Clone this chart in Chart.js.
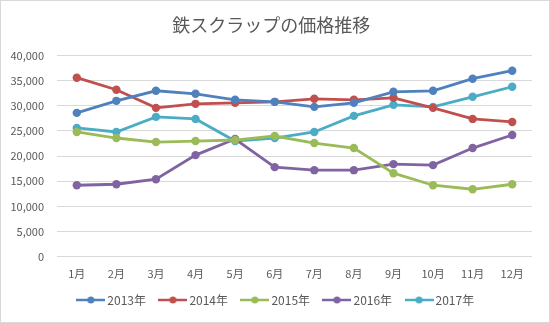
<!DOCTYPE html>
<html>
<head>
<meta charset="utf-8">
<script src="https://cdn.jsdelivr.net/npm/chart.js@4"></script>
<style>
  html, body { margin: 0; padding: 0; background: #fff; }
  #wrap { position: relative; width: 550px; height: 323px; box-sizing: border-box; border: 1px solid #d9d9d9; }
</style>
</head>
<body>
<div id="wrap"><canvas id="priceChart"></canvas></div>
<script>
        // 鉄スクラップの価格推移 - data
        const months = ['1月', '2月', '3月', '4月', '5月', '6月', '7月', '8月', '9月', '10月', '11月', '12月'];
        const yearLabels = ['2013年', '2014年', '2015年', '2016年', '2017年'];
        const price2013 = [28600, 31000, 33000, 32400, 31200, 30800, 29800, 30600, 32800, 33000, 35400, 37000];
        const price2014 = [35600, 33200, 29600, 30400, 30600, 30800, 31400, 31200, 31600, 29600, 27400, 26800];
        const price2015 = [24800, 23600, 22800, 23000, 23200, 24000, 22600, 21600, 16600, 14200, 13400, 14400];
        const price2016 = [14200, 14400, 15400, 20200, 23400, 17800, 17200, 17200, 18400, 18200, 21600, 24200];
        const price2017 = [25600, 24800, 27800, 27400, 23000, 23600, 24800, 28000, 30200, 29800, 31800, 33800];
        const colors = ['#4f81bd', '#c0504d', '#9bbb59', '#8064a2', '#4bacc6'];

        const font = "'Noto Sans CJK JP', 'Noto Sans', sans-serif";

        // legend marker: short line with a dot in the middle
        function legendMarker(color) {
            const c = document.createElement('canvas');
            c.width = 29;
            c.height = 10;
            const g = c.getContext('2d');
            g.strokeStyle = color;
            g.lineWidth = 2.5;
            g.beginPath();
            g.moveTo(0, 5);
            g.lineTo(29, 5);
            g.stroke();
            g.fillStyle = color;
            g.beginPath();
            g.arc(14.5, 5, 3.5, 0, Math.PI * 2);
            g.fill();
            return c;
        }

        // nudge the legend so it sits like the Excel one
        const legendShift = {
            id: 'legendShift',
            afterLayout(chart) {
                chart.legend.left += 6;
                chart.legend.right += 6;
                chart.legend.top -= 5;
                chart.legend.bottom -= 5;
            }
        };

        const allPrices = [price2013, price2014, price2015, price2016, price2017];

        const ctx = document.getElementById('priceChart').getContext('2d');
        new Chart(ctx, {
            type: 'line',
            data: {
                labels: months,
                datasets: allPrices.map((d, i) => ({
                    label: yearLabels[i],
                    data: d,
                    borderColor: colors[i],
                    backgroundColor: colors[i],
                    borderWidth: 2.8,
                    pointRadius: 4.2,
                    pointHoverRadius: 4.2,
                    pointBorderWidth: 0,
                    pointStyle: 'circle',
                    tension: 0,
                    fill: false
                }))
            },
            plugins: [legendShift],
            options: {
                responsive: true,
                maintainAspectRatio: false,
                animation: false,
                layout: {
                    padding: { left: 9.5, right: 17, top: 4, bottom: 1 }
                },
                plugins: {
                    title: {
                        display: true,
                        text: '鉄スクラップの価格推移',
                        color: '#595959',
                        font: { family: font, size: 18, weight: 'normal' },
                        padding: { top: 9, bottom: 20 }
                    },
                    legend: {
                        position: 'bottom',
                        labels: {
                            usePointStyle: true,
                            pointStyleWidth: 21,
                            generateLabels: chart => chart.data.datasets.map((ds, i) => ({
                                text: ds.label,
                                fontColor: '#595959',
                                pointStyle: legendMarker(colors[i]),
                                datasetIndex: i,
                                lineWidth: 0
                            })),
                            color: '#595959',
                            font: { family: font, size: 12 },
                            padding: 16.4
                        }
                    },
                    tooltip: { enabled: false }
                },
                scales: {
                    x: {
                        offset: true,
                        grid: { display: false },
                        border: { display: false },
                        ticks: {
                            color: '#595959',
                            font: { family: font, size: 11 },
                            maxRotation: 0,
                            padding: 2.4
                        }
                    },
                    y: {
                        min: 0,
                        max: 40000,
                        grid: { color: '#d9d9d9', drawTicks: false },
                        border: { display: false },
                        afterFit: function(scale) {
                            scale.width = 46.5;
                        },
                        ticks: {
                            stepSize: 5000,
                            color: '#595959',
                            font: { family: font, size: 11 },
                            padding: 13,
                            callback: function(value) {
                                return value.toLocaleString('en-US');
                            }
                        }
                    }
                }
            }
        });
</script>
</body>
</html>
